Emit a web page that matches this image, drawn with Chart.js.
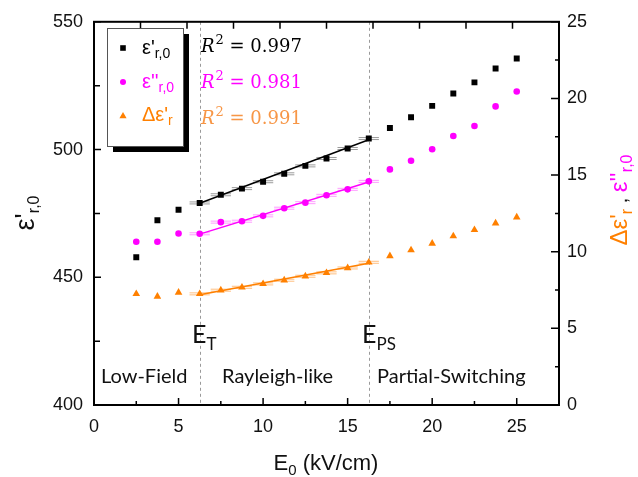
<!DOCTYPE html>
<html>
<head>
<meta charset="utf-8">
<script src="https://cdn.jsdelivr.net/npm/chart.js@4.4.1/dist/chart.umd.min.js"></script>
<style>
  html, body { margin: 0; padding: 0; background: #fff; }
</style>
</head>
<body>
<canvas id="chart" width="638" height="477"></canvas>
<script>
// field amplitude E0 (kV/cm)
const fieldE0 = [2.5, 3.75, 5, 6.25, 7.5, 8.75, 10, 11.25, 12.5, 13.75, 15, 16.25, 17.5, 18.75, 20, 21.25, 22.5, 23.75, 25];
// eps'_r,0 (left axis)
const epsReal = [457.8, 472.3, 476.4, 479.1, 482.3, 484.7, 487.4, 490.5, 493.6, 496.5, 500.4, 504.3, 508.4, 512.6, 517.1, 521.9, 526.3, 531.7, 535.6];
// eps''_r,0 (right axis)
const epsImag = [10.65, 10.65, 11.19, 11.17, 11.93, 11.99, 12.34, 12.84, 13.2, 13.68, 14.07, 14.59, 15.37, 15.93, 16.69, 17.55, 18.2, 19.48, 20.45];
// delta eps'_r (right axis)
const deltaEps = [7.25, 7.08, 7.34, 7.25, 7.49, 7.68, 7.9, 8.14, 8.4, 8.62, 8.94, 9.31, 9.72, 10.11, 10.54, 11.02, 11.43, 11.86, 12.25];

// linear fits over the Rayleigh-like range
const boundaries = [6.25, 16.25];
const fitReal = [479.0, 503.8];
const fitImag = [11.15, 14.55];
const fitDelta = [7.2, 9.25];
const xErrHalf = 0.6;

const xTicks = [0, 5, 10, 15, 20, 25];
const xMinor = [2.5, 7.5, 12.5, 17.5, 22.5];
const topTicks = [1, 2, 3, 4, 5, 6, 7, 8, 9];
const yLeftTicks = [400, 450, 500, 550];
const yLeftMinor = [425, 475, 525];
const yRightTicks = [0, 5, 10, 15, 20, 25];
const yRightMinor = [2.5, 7.5, 12.5, 17.5, 22.5];

const r2Values = ["0.997", "0.981", "0.991"];
const regionLabels = ["Low-Field", "Rayleigh-like", "Partial-Switching"];

const BLACK = "#000000";
const MAGENTA = "#ff00ff";
const ORANGE = "#ff8000";
const ORANGE_TXT = "#f79646";
const SANS = "'Liberation Sans', Arial, sans-serif";
const CAL = "Lato, 'Open Sans', sans-serif";
const SERIF = "'DejaVu Serif', serif";

function pts(xs, ys) {
  return xs.map((x, i) => ({ x, y: ys[i] }));
}

function rich(ctx, x, y, parts) {
  let cx = x;
  parts.forEach((p) => {
    ctx.font = p.font;
    ctx.fillStyle = p.color;
    ctx.fillText(p.t, cx, y + (p.dy || 0));
    cx += ctx.measureText(p.t).width + (p.gap || 0);
  });
  return cx - x;
}

function richWidth(ctx, parts) {
  let w = 0;
  parts.forEach((p) => {
    ctx.font = p.font;
    w += ctx.measureText(p.t).width + (p.gap || 0);
  });
  return w;
}

function marker(ctx, style, x, y, color) {
  ctx.fillStyle = color;
  ctx.beginPath();
  if (style === "rect") {
    ctx.rect(x - 2.8, y - 2.8, 5.6, 5.6);
  } else if (style === "circle") {
    ctx.arc(x, y, 3, 0, Math.PI * 2);
  } else {
    ctx.moveTo(x, y - 4);
    ctx.lineTo(x + 3.6, y + 2.2);
    ctx.lineTo(x - 3.6, y + 2.2);
    ctx.closePath();
  }
  ctx.fill();
}

const decor = {
  id: "decor",
  beforeDatasetsDraw(chart) {
    const { ctx, chartArea: a, scales } = chart;
    const x = scales.x;
    ctx.save();
    // region boundaries
    ctx.strokeStyle = "#9a9a9a";
    ctx.lineWidth = 1;
    ctx.setLineDash([3, 3]);
    boundaries.forEach((b) => {
      const px = Math.round(x.getPixelForValue(b)) + 0.5;
      ctx.beginPath();
      ctx.moveTo(px, a.top);
      ctx.lineTo(px, a.bottom);
      ctx.stroke();
    });
    ctx.setLineDash([]);
    // horizontal error bars in fit range
    const sets = [
      [epsReal, scales.yL, "#9c9c9c"],
      [epsImag, scales.yR, "#ff9cff"],
      [deltaEps, scales.yR, "#ffbf80"],
    ];
    sets.forEach(([vals, ys, col]) => {
      ctx.strokeStyle = col;
      ctx.lineWidth = 1;
      fieldE0.forEach((e, i) => {
        if (e < boundaries[0] || e > boundaries[1]) return;
        const py = ys.getPixelForValue(vals[i]);
        const x0 = x.getPixelForValue(e - xErrHalf);
        const x1 = x.getPixelForValue(e + xErrHalf);
        ctx.beginPath();
        ctx.moveTo(x0, py - 1);
        ctx.lineTo(x1, py - 1);
        ctx.moveTo(x0, py + 1);
        ctx.lineTo(x1, py + 1);
        ctx.stroke();
      });
    });
    ctx.restore();
  },
  afterDraw(chart) {
    const { ctx, chartArea: a, scales } = chart;
    const x = scales.x, yL = scales.yL, yR = scales.yR;
    ctx.save();
    ctx.strokeStyle = "#000";
    ctx.lineWidth = 2;
    ctx.strokeRect(a.left, a.top, a.right - a.left, a.bottom - a.top);

    ctx.lineWidth = 1.5;
    ctx.beginPath();
    xTicks.forEach((v) => { const p = x.getPixelForValue(v); ctx.moveTo(p, a.bottom); ctx.lineTo(p, a.bottom - 7); });
    xMinor.forEach((v) => { const p = x.getPixelForValue(v); ctx.moveTo(p, a.bottom); ctx.lineTo(p, a.bottom - 4); });
    topTicks.forEach((v) => { const p = scales.xTop.getPixelForValue(v); ctx.moveTo(p, a.top); ctx.lineTo(p, a.top + 7); });
    yLeftTicks.forEach((v) => { const p = yL.getPixelForValue(v); ctx.moveTo(a.left, p); ctx.lineTo(a.left + 7, p); });
    yLeftMinor.forEach((v) => { const p = yL.getPixelForValue(v); ctx.moveTo(a.left, p); ctx.lineTo(a.left + 6, p); });
    yRightTicks.forEach((v) => { const p = yR.getPixelForValue(v); ctx.moveTo(a.right, p); ctx.lineTo(a.right - 8, p); });
    yRightMinor.forEach((v) => { const p = yR.getPixelForValue(v); ctx.moveTo(a.right, p); ctx.lineTo(a.right - 4, p); });
    ctx.stroke();

    // legend box with shadow
    ctx.fillStyle = "#000";
    ctx.fillRect(113, 34, 76, 118);
    ctx.fillStyle = "#fff";
    ctx.fillRect(107.5, 28.5, 76, 118);
    ctx.strokeStyle = "#555";
    ctx.lineWidth = 1;
    ctx.strokeRect(107.5, 28.5, 76, 118);

    ctx.textBaseline = "alphabetic";
    ctx.textAlign = "left";
    const big = "20px " + SANS, sub = "14px " + SANS;
    marker(ctx, "rect", 123, 48, BLACK);
    rich(ctx, 142, 54, [
      { t: "ε'", font: big, color: BLACK },
      { t: "r,0", font: sub, color: BLACK, dy: 4 },
    ]);
    marker(ctx, "circle", 123, 82, MAGENTA);
    rich(ctx, 142, 88, [
      { t: "ε''", font: big, color: MAGENTA },
      { t: "r,0", font: sub, color: MAGENTA, dy: 4 },
    ]);
    marker(ctx, "tri", 123, 116, ORANGE);
    rich(ctx, 142, 121, [
      { t: "Δε'", font: big, color: ORANGE },
      { t: "r", font: sub, color: ORANGE, dy: 4 },
    ]);

    // R^2 values
    const r2Colors = [BLACK, MAGENTA, ORANGE_TXT];
    const r2Base = [52, 88, 124];
    r2Values.forEach((v, i) => {
      rich(ctx, 201, r2Base[i], [
        { t: "R", font: "italic 18px " + SERIF, color: r2Colors[i], gap: 1 },
        { t: "2", font: "13px " + SERIF, color: r2Colors[i], dy: -8 },
        { t: " = " + v, font: "18px " + SERIF, color: r2Colors[i] },
      ]);
    });

    // thresholds and regions
    rich(ctx, 192, 343, [
      { t: "E", font: "25px " + CAL, color: "#111" },
      { t: "T", font: "17px " + CAL, color: "#111", dy: 7 },
    ]);
    rich(ctx, 362, 343, [
      { t: "E", font: "25px " + CAL, color: "#111" },
      { t: "PS", font: "17px " + CAL, color: "#111", dy: 7 },
    ]);
    ctx.font = "20px " + CAL;
    ctx.fillStyle = "#111";
    const regionX = [101, 222, 377];
    regionLabels.forEach((t, i) => ctx.fillText(t, regionX[i], 383));

    // x title
    const xt = [
      { t: "E", font: "22px " + SANS, color: "#111" },
      { t: "0", font: "15px " + SANS, color: "#111", dy: 5 },
      { t: " (kV/cm)", font: "22px " + SANS, color: "#111" },
    ];
    rich(ctx, 326 - richWidth(ctx, xt) / 2, 470, xt);

    // left title
    const lt = [
      { t: "ε'", font: "27px " + SANS, color: "#111" },
      { t: "r,0", font: "16px " + SANS, color: "#111", dy: 5 },
    ];
    ctx.save();
    ctx.translate(34, 213);
    ctx.rotate(-Math.PI / 2);
    rich(ctx, -richWidth(ctx, lt) / 2, 0, lt);
    ctx.restore();

    // right title
    const rt = [
      { t: "Δε'", font: "24px " + SANS, color: ORANGE },
      { t: "r", font: "16px " + SANS, color: ORANGE, dy: 5 },
      { t: " , ", font: "20px " + SANS, color: "#111" },
      { t: "ε''", font: "24px " + SANS, color: MAGENTA },
      { t: "r,0", font: "16px " + SANS, color: MAGENTA, dy: 5 },
    ];
    ctx.save();
    ctx.translate(627, 200);
    ctx.rotate(-Math.PI / 2);
    rich(ctx, -richWidth(ctx, rt) / 2, 0, rt);
    ctx.restore();

    ctx.restore();
  },
};

const tickFont = { family: SANS, size: 18 };

new Chart(document.getElementById("chart"), {
  type: "scatter",
  data: {
    datasets: [
      { type: "line", data: pts(boundaries, fitReal), yAxisID: "yL", borderColor: BLACK, borderWidth: 1.5, pointRadius: 0 },
      { type: "line", data: pts(boundaries, fitImag), yAxisID: "yR", borderColor: MAGENTA, borderWidth: 1.5, pointRadius: 0 },
      { type: "line", data: pts(boundaries, fitDelta), yAxisID: "yR", borderColor: ORANGE, borderWidth: 1.5, pointRadius: 0 },
      { data: pts(fieldE0, epsReal), yAxisID: "yL", pointStyle: "rect", pointRadius: 4.2, backgroundColor: BLACK, borderWidth: 0 },
      { data: pts(fieldE0, epsImag), yAxisID: "yR", pointStyle: "circle", pointRadius: 3.3, backgroundColor: MAGENTA, borderWidth: 0 },
      { data: pts(fieldE0, deltaEps), yAxisID: "yR", pointStyle: "triangle", pointRadius: 4.4, backgroundColor: ORANGE, borderWidth: 0 },
    ],
  },
  options: {
    responsive: false,
    animation: false,
    layout: { padding: { top: 20, left: 0, right: 0, bottom: 0 } },
    plugins: { legend: { display: false }, tooltip: { enabled: false } },
    scales: {
      x: {
        type: "linear", position: "bottom", min: 0, max: 27.5,
        afterBuildTicks: (s) => { s.ticks = xTicks.map((v) => ({ value: v })); },
        afterFit: (s) => { s.height = 72; },
        grid: { display: false, drawTicks: false },
        border: { display: false },
        ticks: { font: tickFont, color: "#111", padding: 11, maxRotation: 0 },
      },
      xTop: {
        type: "linear", position: "top", min: 0, max: 10, display: false,
      },
      yL: {
        type: "linear", position: "left", min: 400, max: 550,
        afterBuildTicks: (s) => { s.ticks = yLeftTicks.map((v) => ({ value: v })); },
        afterFit: (s) => { s.width = 94; },
        grid: { display: false, drawTicks: false },
        border: { display: false },
        ticks: { font: tickFont, color: "#111", padding: 11 },
      },
      yR: {
        type: "linear", position: "right", min: 0, max: 25,
        afterBuildTicks: (s) => { s.ticks = yRightTicks.map((v) => ({ value: v })); },
        afterFit: (s) => { s.width = 79; },
        grid: { display: false, drawTicks: false },
        border: { display: false },
        ticks: { font: tickFont, color: "#111", padding: 8 },
      },
    },
  },
  plugins: [decor],
});
</script>
</body>
</html>
